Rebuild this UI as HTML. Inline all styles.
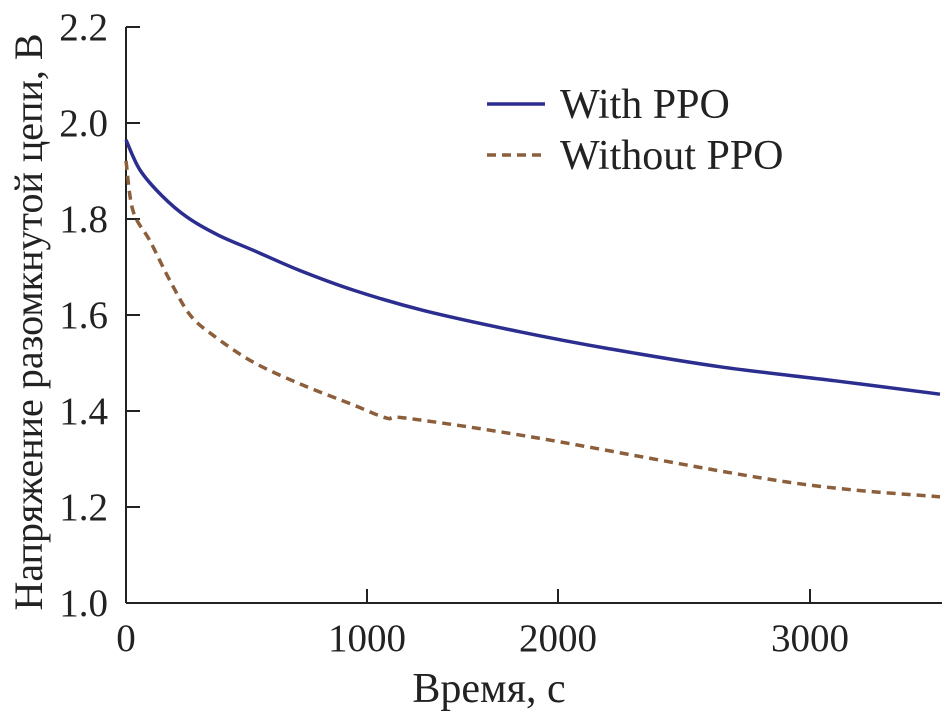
<!DOCTYPE html>
<html><head><meta charset="utf-8"><style>
html,body{margin:0;padding:0;background:#fff}
svg text{font-family:"Liberation Serif",serif;fill:#222}
</style></head><body>
<svg id="chart" width="942" height="713" viewBox="0 0 942 713" xmlns="http://www.w3.org/2000/svg">
<g id="axes"></g>
<g id="series"></g>
<g>
<line x1="487" y1="104" x2="545" y2="104" stroke="#2b2e8f" stroke-width="3.5"/>
<text x="560" y="118" font-size="42">With PPO</text>
<line x1="487" y1="155" x2="545" y2="155" stroke="#8b5e3c" stroke-width="3.5" stroke-dasharray="9,6"/>
<text x="560" y="169" font-size="42">Without PPO</text>
</g>
<text x="489" y="702" font-size="42" text-anchor="middle">Время, с</text>
<text transform="translate(42,322) rotate(-90)" font-size="40" text-anchor="middle">Напряжение разомкнутой цепи, В</text>
</svg>
<script>
const xTicks=[0,1000,2000,3000];
const xTickLabels=["0","1000","2000","3000"];
const yTicks=[1.0,1.2,1.4,1.6,1.8,2.0,2.2];
const yTickLabels=["1.0","1.2","1.4","1.6","1.8","2.0","2.2"];
const withT=[0,58,150,253,380,527,720,942,1300,1801,2200,2644,3100,3516];
const withV=[1.965,1.902,1.848,1.804,1.767,1.735,1.693,1.652,1.609,1.565,1.530,1.492,1.463,1.435];
const woT=[0,29,100,183,266,361,527,734,942,1105,1209,1890,2909,3516];
const woV=[1.921,1.817,1.754,1.671,1.60,1.558,1.502,1.454,1.413,1.385,1.385,1.344,1.252,1.221];
const xPix=[126,367,558,810];
function X(t){
  let i=0; while(i<xTicks.length-2 && t>xTicks[i+1]) i++;
  const t0=xTicks[i],t1=xTicks[i+1],p0=xPix[i],p1=xPix[i+1];
  return p0+(t-t0)*(p1-p0)/(t1-t0);
}
function Y(v){return 603-(v-1.0)*480;}
const NS="http://www.w3.org/2000/svg";
const ax=document.getElementById('axes');
function mk(tag,attrs,parent){const e=document.createElementNS(NS,tag);for(const k in attrs)e.setAttribute(k,attrs[k]);parent.appendChild(e);return e;}
let l=mk('line',{x1:126,y1:603,x2:942,y2:603,stroke:'#222','stroke-width':2},ax);


l=mk('line',{x1:126,y1:Y(2.2),x2:126,y2:603,stroke:'#222','stroke-width':2},ax);


xTicks.forEach((t,i)=>{
  if(i>0){const k=mk('line',{x1:X(t),y1:603,x2:X(t),y2:589,stroke:'#222','stroke-width':2},ax);
  
  }
  const s=mk('text',{x:X(t),y:651,'font-size':39,'text-anchor':'middle'},ax);
  s.textContent=xTickLabels[i];
  
  
});
yTicks.forEach((v,i)=>{
  const k=mk('line',{x1:126,y1:Y(v),x2:140,y2:Y(v),stroke:'#222','stroke-width':2},ax);
  
  
  const s=mk('text',{x:108,y:Y(v)+13,'font-size':39,'text-anchor':'end'},ax);
  s.textContent=yTickLabels[i];
  
  
});
const se=document.getElementById('series');
function path(T,V){
  const P=T.map((t,i)=>[X(t),Y(V[i])]);
  let d='M'+P[0][0].toFixed(1)+','+P[0][1].toFixed(1);
  for(let i=0;i<P.length-1;i++){
    const p0=P[Math.max(0,i-1)],p1=P[i],p2=P[i+1],p3=P[Math.min(P.length-1,i+2)];
    const c1=[p1[0]+(p2[0]-p0[0])/6,p1[1]+(p2[1]-p0[1])/6];
    const c2=[p2[0]-(p3[0]-p1[0])/6,p2[1]-(p3[1]-p1[1])/6];
    d+=' C'+c1.map(n=>n.toFixed(1)).join(',')+' '+c2.map(n=>n.toFixed(1)).join(',')+' '+p2.map(n=>n.toFixed(1)).join(',');
  }
  return d;
}
let p=mk('path',{d:path(withT,withV),fill:'none',stroke:'#2b2e8f','stroke-width':3.5,'stroke-linejoin':'round'},se);


p=mk('path',{d:path(woT,woV),fill:'none',stroke:'#8b5e3c','stroke-width':3.5,'stroke-dasharray':'9,6'},se);


</script>
</body></html>
